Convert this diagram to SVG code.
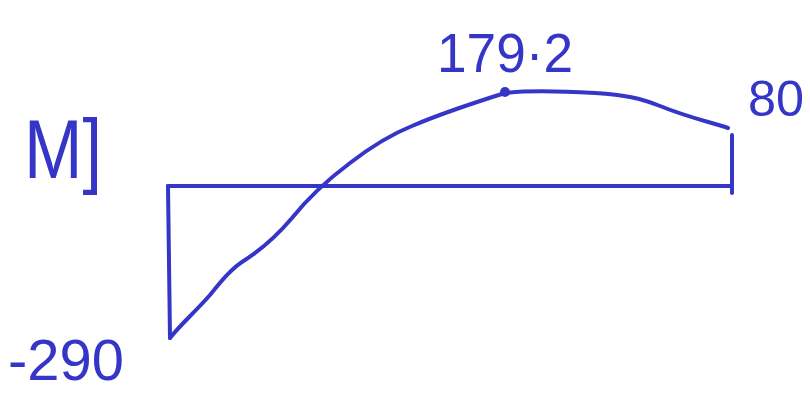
<svg xmlns="http://www.w3.org/2000/svg" width="810" height="396" viewBox="0 0 810 396">
<style>
.ln{fill:none;stroke:#3535c8;stroke-width:4;stroke-linecap:round;stroke-linejoin:round}
.t{fill:#3535c8;font-family:"Liberation Sans",Arial,sans-serif}
</style>
<rect width="810" height="396" fill="#ffffff"/>
<g id="connectors">
<path class="ln" d="M168,186 L732,186"/>
<path class="ln" d="M168,186 L170,338"/>
<path class="ln" d="M732,135 L732,193"/>
<path class="ln" d="M170,338 C180,325 195,312 210,295 C222,280 232,268 245,260 C262,249 275,238 292,218 C308,198 330,178 350,163 C372,146 392,134 412,126 C440,114 470,104 505,93 C530,90 560,91 595,93 C625,95 640,98 660,106 C690,118 710,122 728,128"/>
<circle cx="505" cy="92" r="5" fill="#3535c8"/>
</g>
<g id="label-max"><text class="t" x="437" y="72" font-size="55" textLength="136" lengthAdjust="spacingAndGlyphs">179·2</text></g>
<g id="label-80"><text class="t" x="748" y="116" font-size="50" textLength="56" lengthAdjust="spacingAndGlyphs">80</text></g>
<g id="label-M"><text class="t" x="24" y="178" font-size="84" textLength="78" lengthAdjust="spacingAndGlyphs">M]</text></g>
<g id="label-290"><text class="t" x="8" y="380" font-size="58" textLength="116" lengthAdjust="spacingAndGlyphs">-290</text></g>
</svg>
